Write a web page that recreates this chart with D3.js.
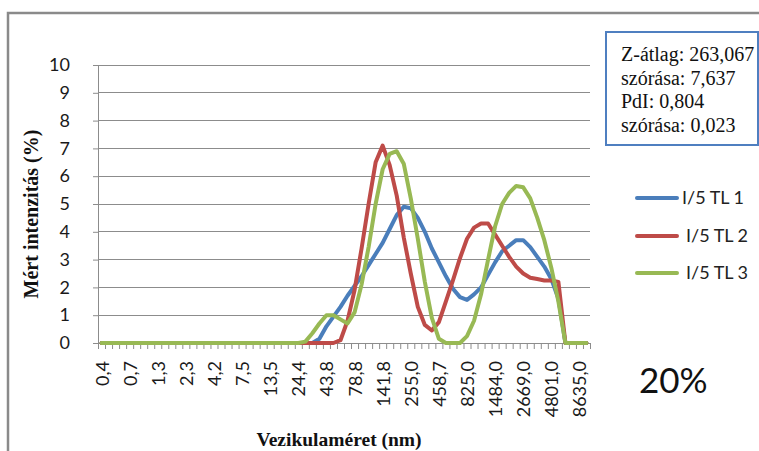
<!DOCTYPE html>
<html><head><meta charset="utf-8">
<script src="https://cdn.jsdelivr.net/npm/d3@7"></script>
<style>body{margin:0;background:#fff}svg{display:block}</style>
</head><body>
<script>
// Zetasizer size classes (nm)
const categories = [0.4,0.4632,0.5365,0.6213,0.7195,0.8332,0.965,1.117,1.294,1.499,1.736,2.01,2.328,2.696,3.122,3.615,4.187,4.849,5.615,6.503,7.531,8.721,10.1,11.7,13.54,15.69,18.17,21.04,24.36,28.21,32.67,37.84,43.82,50.75,58.77,68.06,78.82,91.28,105.7,122.4,141.8,164.2,190.1,220.2,255,295.3,342,396.1,458.7,531.2,615.1,712.4,825,955.4,1106,1281,1484,1718,1990,2305,2669,3091,3580,4145,4801,5560,6439,7456,8635,10000];
const seriesNames = ["I/5 TL 1","I/5 TL 2","I/5 TL 3"];
const tl1 = [0,0,0,0,0,0,0,0,0,0, 0,0,0,0,0,0,0,0,0,0, 0,0,0,0,0,0,0,0,0,0,
  0,0.15,0.6,0.95,1.3,1.7,2.05,2.4,2.8,3.2, 3.6,4.1,4.6,4.9,4.85,4.5,4.0,3.4,2.9,2.4,
  1.95,1.65,1.55,1.75,2.0,2.45,2.9,3.3,3.5,3.7, 3.7,3.45,3.1,2.75,2.3,1.6,0,0,0,0];
const tl2 = [0,0,0,0,0,0,0,0,0,0, 0,0,0,0,0,0,0,0,0,0, 0,0,0,0,0,0,0,0,0,0,
  0,0,0,0,0.1,0.8,1.9,3.4,5.0,6.5, 7.1,6.4,5.3,3.8,2.5,1.3,0.65,0.45,0.75,1.5,
  2.25,3.05,3.75,4.15,4.3,4.3,3.9,3.5,3.1,2.75, 2.5,2.35,2.3,2.25,2.25,2.2,0,0,0,0];
const tl3 = [0,0,0,0,0,0,0,0,0,0, 0,0,0,0,0,0,0,0,0,0, 0,0,0,0,0,0,0,0,0,0.05,
  0.35,0.7,1.0,1.0,0.85,0.7,1.1,2.1,3.45,5.0, 6.25,6.8,6.9,6.45,5.2,3.75,2.2,0.9,0.15,0,
  0,0,0.25,0.8,1.75,3.0,4.2,5.0,5.4,5.65, 5.6,5.2,4.5,3.7,2.7,1.5,0,0,0,0];
const seriesValues = [tl1, tl2, tl3];
const colors = ["#4a7ebb","#be4b48","#98b954"];
const yTicks = [0,1,2,3,4,5,6,7,8,9,10];
const labelEvery = 4;
const statsLines = ["Z-átlag: 263,067","szórása: 7,637","PdI: 0,804","szórása: 0,023"];
const yTitle = "Mért intenzitás (%)";
const xTitle = "Vezikulaméret (nm)";
const note = "20%";

const W = 759, H = 451;
const svg = d3.select("body").append("svg").attr("width", W).attr("height", H);
const huLocale = d3.formatLocale({decimal: ",", thousands: "", grouping: [3], currency: ["", ""]});
const fmt = huLocale.format(".1f");

// outer frame
svg.append("rect").attr("x", 8).attr("y", 13).attr("width", 780).attr("height", 470)
  .attr("fill", "none").attr("stroke", "#8a8a8a").attr("stroke-width", 2.5);

const x = d3.scaleBand().domain(d3.range(categories.length)).range([98, 590]).padding(0);
const y = d3.scaleLinear().domain([0, 10]).range([343, 65]);

// gridlines
svg.append("g").selectAll("line").data(yTicks.filter(d => d > 0)).join("line")
  .attr("x1", 98).attr("x2", 590).attr("y1", d => y(d)).attr("y2", d => y(d))
  .attr("stroke", "#8c8c8c").attr("stroke-width", 1).attr("shape-rendering", "crispEdges");

// y axis
const yAxis = svg.append("g").attr("transform", "translate(98,0)")
  .call(d3.axisLeft(y).tickValues(yTicks).tickSize(5).tickPadding(23).tickFormat(d3.format("d")));
yAxis.select(".domain").attr("stroke", "#8c8c8c");
yAxis.selectAll(".tick line").attr("stroke", "#8c8c8c");
yAxis.selectAll("text").attr("font-family", "Lato, 'Liberation Sans', sans-serif")
  .attr("font-size", 18).attr("fill", "#1a1a1a");

// x axis: tick marks at category boundaries
const xg = svg.append("g");
xg.append("line").attr("x1", 98).attr("x2", 590).attr("y1", 343.5).attr("y2", 343.5)
  .attr("stroke", "#8c8c8c");
xg.selectAll("line.tk").data(d3.range(categories.length + 1)).join("line").attr("class", "tk")
  .attr("x1", i => i < categories.length ? x(i) + 0.5 : x(i - 1) + x.bandwidth() + 0.5)
  .attr("x2", i => i < categories.length ? x(i) + 0.5 : x(i - 1) + x.bandwidth() + 0.5)
  .attr("y1", 343).attr("y2", 349).attr("stroke", "#8c8c8c");
xg.selectAll("text").data(d3.range(0, categories.length, labelEvery)).join("text")
  .attr("transform", i => `translate(${x(i) + x.bandwidth() / 2 + 7},361) rotate(-90)`)
  .attr("text-anchor", "end")
  .attr("font-family", "Lato, 'Liberation Sans', sans-serif").attr("font-size", 18).attr("fill", "#1a1a1a")
  .text(i => fmt(categories[i]));

// lines
const line = d3.line().x((d, i) => x(i) + x.bandwidth() / 2).y(d => y(d));
svg.append("g").selectAll("path").data(seriesValues).join("path")
  .attr("d", line).attr("fill", "none").attr("stroke", (d, i) => colors[i])
  .attr("stroke-width", 4).attr("stroke-linejoin", "round").attr("stroke-linecap", "round");

// axis titles
svg.append("text").attr("transform", "translate(38,214) rotate(-90)").attr("text-anchor", "middle")
  .attr("font-family", "'Liberation Serif', 'Times New Roman', serif").attr("font-weight", "bold")
  .attr("font-size", 20).attr("fill", "#111").text(yTitle);
svg.append("text").attr("x", 339).attr("y", 446).attr("text-anchor", "middle")
  .attr("font-family", "'Liberation Serif', 'Times New Roman', serif").attr("font-weight", "bold")
  .attr("font-size", 19.5).attr("fill", "#111").text(xTitle);

// legend
const lg = svg.append("g");
const legY = [198, 236, 273];
seriesNames.forEach((n, i) => {
  lg.append("line").attr("x1", 637).attr("x2", 677).attr("y1", legY[i]).attr("y2", legY[i])
    .attr("stroke", colors[i]).attr("stroke-width", 4).attr("stroke-linecap", "round");
  lg.append("text").attr("x", i === 0 ? 682 : 686).attr("y", legY[i] + 6)
    .attr("font-family", "Lato, 'Liberation Sans', sans-serif").attr("font-size", 18).attr("fill", "#222")
    .text(n);
});

// stats box
svg.append("rect").attr("x", 606).attr("y", 32).attr("width", 152).attr("height", 113)
  .attr("fill", "#fff").attr("stroke", "#4f7fc0").attr("stroke-width", 2);
svg.append("g").selectAll("text").data(statsLines).join("text")
  .attr("x", 621).attr("y", (d, i) => 61 + i * 23.5)
  .attr("font-family", "'Liberation Serif', 'Times New Roman', serif").attr("font-size", 20)
  .attr("fill", "#111").text(d => d);

// note
svg.append("text").attr("x", 639).attr("y", 393)
  .attr("font-family", "Lato, 'Liberation Sans', sans-serif").attr("font-size", 35).attr("fill", "#111")
  .text(note);
</script>
</body></html>
